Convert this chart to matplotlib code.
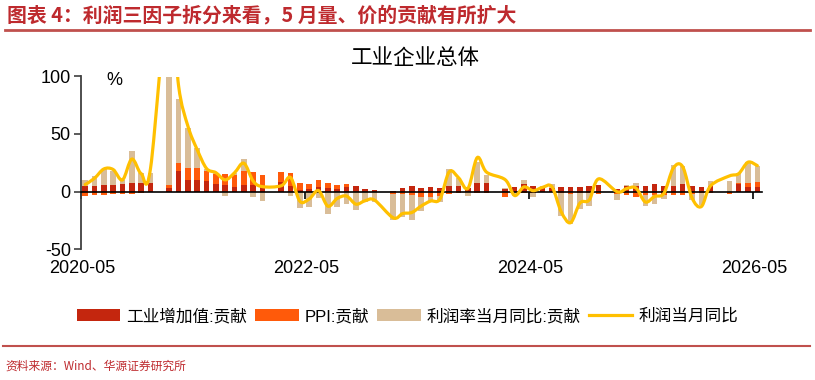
import numpy as np
import matplotlib
matplotlib.use("Agg")
import matplotlib.pyplot as plt
from matplotlib.path import Path
from matplotlib.patches import PathPatch, Patch
from matplotlib.lines import Line2D

plt.rcParams['font.family'] = ['Liberation Sans', 'Noto Sans CJK SC']
plt.rcParams['axes.unicode_minus'] = False

nan = np.nan

# 1) Data: monthly, 2020-05 .. 2026-05 (January has no value: Jan-Feb combined)
n_months = 73

# contribution of industrial value added
iva = [
    4.4, 5.0, 5.3, 5.8, 6.7, 7.6, 7.3, 7.6,
    nan, 3.0, 18.1, 9.6, 9.6, 8.7, 6.7, 5.3, 3.8, 5.3, 5.3, 3.8,
    nan, 8.1, 5.0, 1.0, 2.0, 3.8, 3.0, 2.5, 4.0, 4.4, 1.8, 1.0,
    nan, 0.8, 3.0, 4.4, 3.0, 3.8, 3.2, 4.4, 4.4, 3.0, 7.2, 7.2,
    nan, 2.4, 3.8, 6.7, 5.2, 3.8, 3.0, 3.8, 3.8, 3.8, 4.7, 5.8,
    nan, 2.4, 4.7, 5.2, 4.7, 6.1, 5.2, 5.2, 6.7, 4.4, 3.8, 4.4,
    nan, -0.8, 6.5, 3.8, 3.8,
]
# contribution of PPI
ppi = [
    -4.2, -3.3, -2.7, -2.5, -1.9, -1.9, -1.3, -0.5,
    nan, 2.9, 6.6, 10.6, 10.5, 9.5, 8.6, 9.7, 10.6, 12.8, 11.4, 10.6,
    nan, 9.1, 11.0, 6.5, 4.7, 5.8, 4.6, 3.1, 2.4, 0.0, 0.0, -0.5,
    nan, -2.0, -1.9, -3.3, -4.7, -4.7, -4.0, -1.9, -1.0, -0.5, -1.5, -1.5,
    nan, -4.9, -0.5, -1.5, -1.0, -0.5, -0.5, -1.0, -2.0, -1.5, -1.5, -1.9,
    nan, -2.5, -3.3, -4.7, -3.3, -2.9, -2.7, -3.3, -3.3, -2.0, -1.0, -1.0,
    nan, -1.0, 0.5, 3.7, 4.8,
]
# contribution of profit margin
margin = [
    5.7, 8.3, 14.3, 12.4, 3.4, 27.7, 8.8, 8.8,
    nan, 173.0, 55.5, 34.7, 18.1, 1.5, 1.0, -3.9, 1.5, 10.1, -4.7, -8.5,
    nan, 0.0, -3.5, -14.0, -13.3, -6.0, -19.9, -13.3, -11.3, -16.2, -9.0, -8.5,
    nan, -23.0, -20.6, -21.5, -12.0, -4.0, -5.0, 15.2, 7.5, -3.5, 18.1, 7.2,
    nan, 0.5, -3.3, 2.9, -4.0, 1.0, 3.7, -20.0, -26.0, -13.3, -11.0, 0.0,
    nan, -5.0, 1.0, 2.0, -9.5, -7.6, -4.0, 17.8, 15.7, -5.6, -10.9, 4.3,
    nan, 9.0, 9.2, 17.8, 14.0,
]
# monthly profit yoy
profit = [
    6.0, 11.5, 19.6, 19.1, 10.1, 28.2, 15.5, 20.1,
    nan, 178.9, 92.3, 57.0, 36.4, 20.0, 16.4, 10.1, 16.3, 24.6, 9.0, 4.2,
    nan, 5.0, 12.2, -8.5, -6.5, 0.8, -12.8, -6.0, -4.0, -11.0, -8.0, -7.5,
    nan, -22.9, -19.2, -18.2, -12.6, -8.3, -6.7, 17.2, 11.9, 2.7, 29.5, 16.8,
    nan, 10.2, -3.5, 4.0, 0.7, 3.6, 4.1, -17.8, -27.1, -10.0, -7.3, 11.0,
    nan, -0.3, 2.6, 3.0, -9.1, -4.3, -1.5, 20.4, 21.6, -5.5, -13.1, 5.0,
    nan, 13.5, 15.5, 25.5, 22.5,
]

tick_labels = ["2020-05", "2022-05", "2024-05", "2026-05"]
tick_index = [0, 24, 48, 72]

series_names = ["工业增加值:贡献", "PPI:贡献", "利润率当月同比:贡献", "利润当月同比"]
colors = ["#C4260E", "#FF5A0A", "#D9BD98", "#FFC000"]

x = np.arange(n_months)

# 2) Figure / axes placed like the original
fig = plt.figure(figsize=(8.15, 3.8), dpi=100)
ax = fig.add_axes([80.5 / 815, 1 - 249 / 380, (762 - 80.5) / 815, (249 - 76.5) / 380])

# stacked bars, positive and negative parts stacked separately
pos_base = np.zeros(n_months)
neg_base = np.zeros(n_months)
for vals, color in zip([iva, ppi, margin], colors[:3]):
    v = np.nan_to_num(np.array(vals, dtype=float))
    bottom = np.where(v >= 0, pos_base, neg_base)
    ax.bar(x, v, width=0.6, bottom=bottom, color=color, zorder=1)
    pos_base += np.where(v >= 0, v, 0)
    neg_base += np.where(v < 0, v, 0)

# smoothed profit line (bezier through the data points, Jan gaps connected)
p = np.array(profit, dtype=float)
ok = ~np.isnan(p)
pts = np.column_stack([x[ok], p[ok]])
verts = [pts[0]]
codes = [Path.MOVETO]
for k in range(len(pts) - 1):
    p0 = pts[k - 1] if k > 0 else pts[k]
    p1 = pts[k]
    p2 = pts[k + 1]
    p3 = pts[k + 2] if k + 2 < len(pts) else pts[k + 1]
    verts += [p1 + (p2 - p0) / 6, p2 - (p3 - p1) / 6, p2]
    codes += [Path.CURVE4] * 3
ax.add_patch(PathPatch(Path(verts, codes), fill=False, edgecolor=colors[3],
                       lw=2.3, zorder=3, capstyle='round', joinstyle='round'))

# 3) Axes styling
ax.set_xlim(-0.5, n_months - 0.5)
ax.set_ylim(-50, 100)
ax.set_yticks([-50, 0, 50, 100])
ax.tick_params(axis='y', labelsize=13, length=5, width=1.2, color='#404040', pad=2)
for s in ['top', 'right']:
    ax.spines[s].set_visible(False)
ax.spines['left'].set_color('#404040')
ax.spines['left'].set_linewidth(1.3)
ax.spines['bottom'].set_position(('data', 0))
ax.spines['bottom'].set_color('black')
ax.spines['bottom'].set_linewidth(1.2)
ax.set_xticks([i - 0.5 for i in tick_index], labels=[])
ax.tick_params(axis='x', length=5, width=1.2, color='black')

sec = ax.secondary_xaxis('bottom')
sec.set_xticks([i - 0.3 for i in tick_index], labels=tick_labels)
sec.tick_params(length=0, labelsize=13, pad=8)
sec.spines['bottom'].set_visible(False)

ax.text(0.05, 0.975, "%", transform=ax.transAxes, fontsize=13, ha='center', va='center')

# 4) Titles, legend, source
fig.text(7 / 815, 1 - 15 / 380, "图表 4：利润三因子拆分来看，5 月量、价的贡献有所扩大",
         fontsize=14.3, fontweight='bold', color='#BE2A2E', ha='left', va='center',
         family=['Noto Sans CJK SC', 'DejaVu Sans'])
fig.add_artist(Line2D([5 / 815, 810 / 815], [1 - 30 / 380] * 2, transform=fig.transFigure,
                      color='#C0504D', lw=2))
fig.text(0.51, 1 - 58 / 380, "工业企业总体", fontsize=15.5, fontweight='medium',
         ha='center', va='center', family=['Noto Sans CJK SC'])

handles = [Patch(facecolor=c) for c in colors[:3]] + [Line2D([0], [0], color=colors[3], lw=2.3)]
fig.legend(handles, series_names, loc='center', bbox_to_anchor=(0.5, 1 - 316 / 380), ncol=4,
           frameon=False, fontsize=12, handlelength=2.6, handleheight=0.75,
           handletextpad=0.35, columnspacing=0.5)

fig.add_artist(Line2D([3 / 815, 810 / 815], [1 - 346 / 380] * 2, transform=fig.transFigure,
                      color='#C0504D', lw=1.5))
fig.text(5 / 815, 1 - 366 / 380, "资料来源：Wind、华源证券研究所", fontsize=8.5,
         color='#BE2A2E', ha='left', va='center', family=['Noto Sans CJK SC', 'DejaVu Sans'])

fig.savefig("out.png", dpi=100)
